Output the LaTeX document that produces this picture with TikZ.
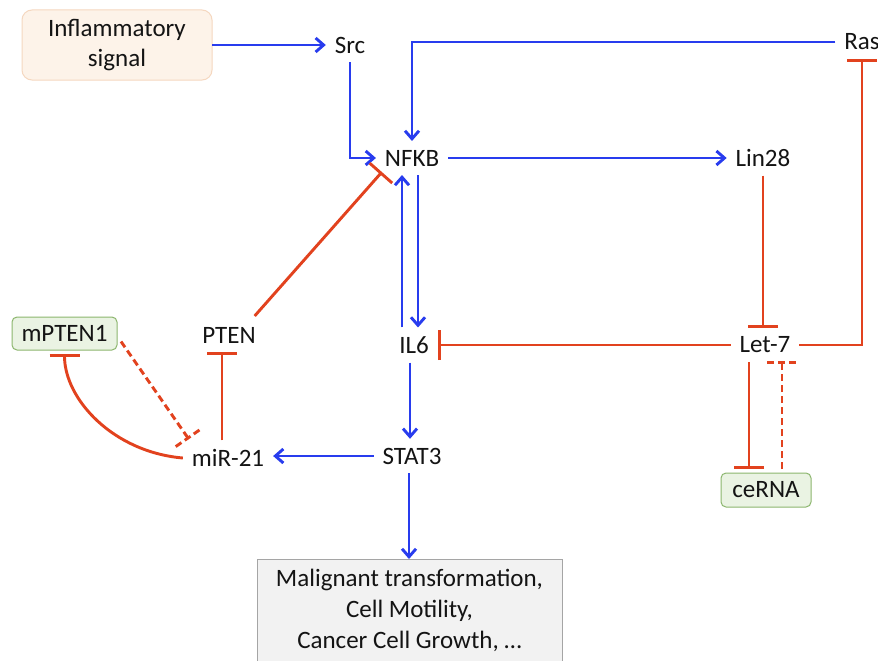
\documentclass[tikz,border=0pt]{standalone}
\usepackage{fontspec}
\setmainfont{Carlito}
\usetikzlibrary{arrows.meta,calc}
\definecolor{actblue}{RGB}{40,60,238}
\definecolor{inhred}{RGB}{226,66,30}
\definecolor{txt}{RGB}{20,20,20}
\definecolor{greenfill}{RGB}{234,243,227}
\definecolor{greenline}{RGB}{140,182,110}
\definecolor{peachfill}{RGB}{253,243,233}
\definecolor{peachline}{RGB}{245,216,192}
\definecolor{grayfill}{RGB}{242,242,242}
\definecolor{grayline}{RGB}{165,165,165}
\begin{document}
\begin{tikzpicture}[x=1pt,y=-1pt,
  font=\fontsize{25}{30}\selectfont, text=txt,
  lbl/.style={inner sep=3pt, outer sep=6pt},
  act/.style={draw=actblue, line width=2.9pt, -{Straight Barb[length=8pt,width=14pt]}},
  inh/.style={draw=inhred, line width=2.9pt, -{Bar[width=30pt]}},
  inhdash/.style={draw=inhred, line width=2.9pt, dash pattern=on 7pt off 4pt},
  greenbox/.style={draw=greenline, fill=greenfill, rounded corners=5pt, line width=1pt, outer sep=4pt},
  peachbox/.style={draw=peachline, fill=peachfill, rounded corners=10pt, line width=1pt, align=center, outer sep=0pt},
  outbox/.style={draw=grayline, fill=grayfill, line width=1pt},
  outtxt/.style={align=center, inner sep=0pt, font=\fontsize{25}{31}\selectfont},
]
\clip (0,0) rectangle (878,661);
\fill[white] (0,0) rectangle (878,661);

% nodes
\node[peachbox, minimum width=190pt, minimum height=70pt] (infl) at (117,45) {Inflammatory\\signal};
\node[lbl] (src) at (350,45) {Src};
\node[lbl] (ras) at (862,42) {Ras};
\node[lbl] (nfkb) at (412,158) {NFKB};
\node[lbl] (lin28) at (763,158) {Lin28};
\node[lbl] (let7) at (765,345) {Let-7};
\node[lbl] (il6) at (414,345) {IL6};
\node[lbl] (stat3) at (412,456) {STAT3};
\node[lbl] (mir21) at (228,458) {miR-21};
\node[lbl] (pten) at (229,335) {PTEN};
\node[greenbox, minimum width=105pt, minimum height=33pt, inner sep=2pt] (mpten) at (64.5,333.5) {mPTEN1};
\node[greenbox, minimum width=90pt, minimum height=34pt, inner sep=2pt] (cerna) at (766,490) {ceRNA};
\node[outbox, anchor=north, minimum width=305pt, minimum height=120pt] (out) at (409.5,559) {};
\node[outtxt, anchor=north] (outtext) at ([yshift=-10pt]out.north)
  {Malignant transformation,\\Cell Motility,\\Cancer Cell Growth, \dots};

\coordinate (mirhit) at (188,438);

% activations
\draw[act] (infl.east) -- (src.west);
\draw[act] (src.south) -- (src.south |- nfkb.west) -- (nfkb.west);
\draw[act] (ras.west) -- (ras.west -| nfkb.north) -- (nfkb.north);
\draw[act] (nfkb.east) -- (lin28.west);
\draw[act] ([xshift=-12pt]il6.north) -- ([xshift=-12pt]il6.north |- nfkb.south);
\draw[act] ([xshift=6pt]nfkb.south) -- ([xshift=6pt]nfkb.south |- il6.north);
\draw[act] ([xshift=-4pt]il6.south) -- ([xshift=-4pt]il6.south |- stat3.north);
\draw[act] (stat3.west) -- (stat3.west -| mir21.east);
\draw[act] ([xshift=-3pt]stat3.south) -- ([xshift=-3pt]stat3.south |- out.north);

% inhibitions
\draw[inh] (let7.east) -- (let7.east -| ras.south) -- (ras.south);
\draw[inh] (lin28.south) -- (lin28.south |- let7.north);
\draw[inh] (let7.west) -- (let7.west -| il6.east);
\draw[inh] ([xshift=-6pt]mir21.north) -- ([xshift=-6pt]mir21.north |- pten.south);
\draw[inh] ([xshift=-10pt,yshift=2pt]pten.north east) -- ([xshift=6pt,yshift=3pt]nfkb.south west);
\draw[inh] (mir21.west) .. controls +(-70,-6) and +(0,45) .. (mpten.south);
\draw[inh] ([xshift=-16pt]let7.south) -- ([xshift=-16pt]let7.south |- cerna.north);

% dashed inhibitions
\draw[inhdash] ([yshift=-8pt]mpten.east) -- (mirhit);
\draw[inhdash] ($(mirhit)+(-12.3,8.6)$) -- ($(mirhit)+(12.3,-8.6)$);
\coordinate (ct) at ([xshift=16pt]cerna.north |- let7.south);
\draw[inhdash] ([xshift=16pt]cerna.north) -- (ct);
\draw[inhdash] ([xshift=-15pt]ct) -- ([xshift=15pt]ct);
\end{tikzpicture}
\end{document}
